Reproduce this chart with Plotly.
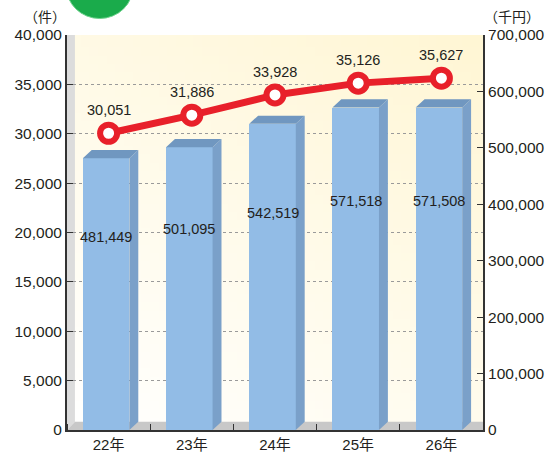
import base64
import struct
import zlib

import plotly.graph_objects as go

# ---- data ----
categories = ["22年", "23年", "24年", "25年", "26年"]
counts = [30051, 31886, 33928, 35126, 35627]          # 件 (left axis, line)
amounts = [481449, 501095, 542519, 571518, 571508]    # 千円 (right axis, bars)
count_labels = ["30,051", "31,886", "33,928", "35,126", "35,627"]
amount_labels = ["481,449", "501,095", "542,519", "571,518", "571,508"]

# ---- geometry (fixed figure size) ----
W, H = 557, 465
ML, MR, MT, MB = 67, 70, 35, 22
PW, PH = W - ML - MR, H - MT - MB
Y1MAX, Y2MAX = 40000, 700000
n = len(categories)
xs = list(range(n))

px_x = PW / n                 # px per x unit
px_y2 = PH / Y2MAX            # px per y2 unit
BAR_W = 47 / px_x
SHIFT = -0.03
DX = 9 / px_x
DY = 8.5 / px_y2

FONT = "Liberation Sans, Arial, Noto Sans CJK JP"
TXT = "#231f20"


# ---- background gradient image (decoration) ----
def gradient_png(w, h, c0, c1):
    rows = b""
    for yy in range(h):
        row = b"\x00"
        for xx in range(w):
            t = 0.6 * (1 - yy / (h - 1)) + 0.4 * (xx / (w - 1))
            t = max(0.0, min(1.0, t))
            px = bytes(int(round(a + (b - a) * t)) for a, b in zip(c0, c1))
            row += px
        rows += row

    def chunk(tag, data):
        c = struct.pack(">I", len(data)) + tag + data
        return c + struct.pack(">I", zlib.crc32(tag + data) & 0xFFFFFFFF)

    png = b"\x89PNG\r\n\x1a\n"
    png += chunk(b"IHDR", struct.pack(">IIBBBBB", w, h, 8, 2, 0, 0, 0))
    png += chunk(b"IDAT", zlib.compress(rows))
    png += chunk(b"IEND", b"")
    return "data:image/png;base64," + base64.b64encode(png).decode()


bg_src = gradient_png(48, 48, (255, 255, 255), (255, 246, 212))

fig = go.Figure()

# front faces
fig.add_trace(go.Bar(
    x=xs, y=amounts, yaxis="y2", width=BAR_W, offset=-BAR_W / 2 + SHIFT,
    marker=dict(color="#92bce6", line=dict(width=0)), hoverinfo="skip", showlegend=False))

# side faces and top faces
sx, sy, tx, ty = [], [], [], []
for i, v in zip(xs, amounts):
    xl = i - BAR_W / 2 + SHIFT
    xr = i + BAR_W / 2 + SHIFT
    sx += [xr, xr + DX, xr + DX, xr, xr, None]
    sy += [0, DY, v + DY, v, 0, None]
    tx += [xl, xr, xr + DX, xl + DX, xl, None]
    ty += [v, v, v + DY, v + DY, v, None]
fig.add_trace(go.Scatter(x=sx, y=sy, yaxis="y2", mode="lines", fill="toself",
                         fillcolor="#7aa0c9", line=dict(width=0), hoverinfo="skip", showlegend=False))
fig.add_trace(go.Scatter(x=tx, y=ty, yaxis="y2", mode="lines", fill="toself",
                         fillcolor="#7097c0", line=dict(width=0), hoverinfo="skip", showlegend=False))

# line (counts)
fig.add_trace(go.Scatter(
    x=xs, y=counts, yaxis="y", mode="lines+markers",
    line=dict(color="#e8202a", width=7),
    marker=dict(size=17, color="white", line=dict(color="#e8202a", width=6)),
    hoverinfo="skip", showlegend=False))

annotations = []
for i, v, t in zip(xs, counts, count_labels):
    annotations.append(dict(x=i, y=v, xref="x", yref="y", text=t, showarrow=False,
                            yshift=23, yanchor="middle",
                            font=dict(family=FONT, size=14.5, color=TXT)))
for i, v, t in zip(xs, amounts, amount_labels):
    annotations.append(dict(x=i + SHIFT, y=v * 0.71, xref="x", yref="y2", text=t,
                            showarrow=False, yanchor="middle",
                            font=dict(family=FONT, size=14.5, color=TXT)))
annotations.append(dict(x=(45 - ML) / PW, y=(H - MB - 15) / PH, xref="paper", yref="paper",
                        text="（件）", showarrow=False, xanchor="center", yanchor="middle",
                        font=dict(family="Noto Sans CJK JP", size=14, color=TXT)))
annotations.append(dict(x=(516 - ML) / PW, y=(H - MB - 15) / PH, xref="paper", yref="paper",
                        text="（千円）", showarrow=False, xanchor="center", yanchor="middle",
                        font=dict(family="Noto Sans CJK JP", size=14, color=TXT)))

wx = 8 / PW
wy = 8.5 / PH
shapes = [
    # left wall
    dict(type="path", xref="paper", yref="paper", layer="between",
         path=f"M0,0 L0,1 L{wx},1 L{wx},{wy} Z",
         fillcolor="#dcdcdc", line=dict(width=0)),
    # floor
    dict(type="path", xref="paper", yref="paper", layer="between",
         path=f"M0,0 L{wx},{wy} L1,{wy} L1,0 Z",
         fillcolor="#c8c8c8", line=dict(width=0)),
    # green badge at top
    dict(type="circle", xref="paper", yref="paper", layer="above",
         x0=(66 - ML) / PW, x1=(134 - ML) / PW,
         y0=(H - MB - 18) / PH, y1=(H - MB + 50) / PH,
         fillcolor="#1aab4b", line=dict(color="#6fd38e", width=1)),
]

fig.update_layout(
    width=W, height=H,
    margin=dict(l=ML, r=MR, t=MT, b=MB, pad=0),
    paper_bgcolor="white", plot_bgcolor="rgba(0,0,0,0)",
    font=dict(family=FONT, color=TXT),
    showlegend=False,
    bargap=0,
    images=[dict(source=bg_src, xref="paper", yref="paper", x=0, y=1,
                 sizex=1, sizey=1, xanchor="left", yanchor="top",
                 sizing="stretch", layer="below")],
    xaxis=dict(range=[-0.5, n - 0.5], tickvals=xs, ticktext=categories,
               ticks="", showgrid=False, zeroline=False,
               showline=True, linecolor="#333333", linewidth=2,
               tickfont=dict(size=15, color=TXT, family=FONT),
               minor=dict(tick0=0.5, dtick=1, ticks="inside", ticklen=6,
                          tickcolor="#333333", showgrid=False)),
    yaxis=dict(range=[0, Y1MAX], dtick=5000, tickformat=",",
               showgrid=True, gridcolor="#9a9a9a", griddash="dot", gridwidth=1,
               zeroline=False, showline=True, linecolor="#333333", linewidth=2,
               ticks="inside", ticklen=6, tickcolor="#333333",
               tickfont=dict(size=15.5, color=TXT, family=FONT)),
    yaxis2=dict(range=[0, Y2MAX], dtick=100000, tickformat=",", overlaying="y", side="right",
                showgrid=False, zeroline=False, showline=True, linecolor="#333333", linewidth=2,
                ticks="inside", ticklen=6, tickcolor="#333333",
                tickfont=dict(size=15.5, color=TXT, family=FONT)),
    annotations=annotations,
    shapes=shapes,
)

fig.write_html("out.html")
